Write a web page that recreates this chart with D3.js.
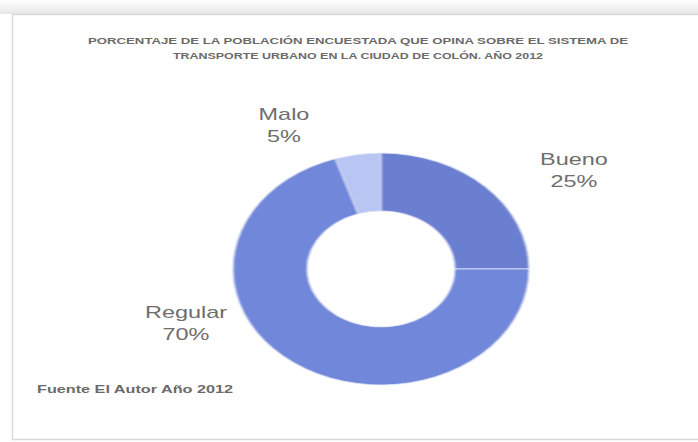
<!DOCTYPE html>
<html><head><meta charset="utf-8">
<script src="https://cdn.jsdelivr.net/npm/d3@7"></script>
<style>body{margin:0;background:#fff}</style></head>
<body>
<script>
const categories = ["Bueno", "Regular", "Malo"];
const values = [25, 70, 5];
const percentLabels = ["25%", "70%", "5%"];
const sliceColors = ["#6a7fd0", "#7087da", "#b9c5f2"];
const titleLines = [
  "PORCENTAJE DE LA POBLACIÓN ENCUESTADA QUE OPINA SOBRE EL SISTEMA DE",
  "TRANSPORTE URBANO EN LA CIUDAD DE COLÓN.  AÑO 2012"
];
const sourceText = "Fuente  El Autor  Año 2012";

const W = 698, H = 442;
const svg = d3.select("body").append("svg").attr("width", W).attr("height", H);

const defs = svg.append("defs");
defs.append("filter").attr("id", "soft").append("feGaussianBlur").attr("stdDeviation", 0.7);
const grad = defs.append("linearGradient").attr("id", "topg").attr("x1", 0).attr("x2", 0).attr("y1", 0).attr("y2", 1);
grad.append("stop").attr("offset", "0%").attr("stop-color", "#ffffff");
grad.append("stop").attr("offset", "100%").attr("stop-color", "#e6e6e6");

// frame
svg.append("rect").attr("x", 0).attr("y", 0).attr("width", W).attr("height", 14).attr("fill", "url(#topg)");
svg.append("rect").attr("x", 12.5).attr("y", 14.5).attr("width", W - 10).attr("height", H - 17)
  .attr("fill", "none").attr("stroke", "#d9d9d9").attr("stroke-width", 1.5);

// title
const titleY = [44, 59];
const titleW = [540, 370];
titleLines.forEach((t, i) => {
  svg.append("text").attr("x", 358).attr("y", titleY[i]).attr("text-anchor", "middle")
    .attr("font-family", "'Liberation Sans Narrow', 'Liberation Sans', Arial, sans-serif")
    .attr("font-size", 9).attr("font-weight", "bold").attr("fill", "#6a6a6a")
    .attr("textLength", titleW[i]).attr("lengthAdjust", "spacingAndGlyphs")
    .text(t);
});

// donut
const cx = 381, cy = 269, R = 116, sx = 148 / 116;
const pie = d3.pie().sort(null).value(d => d)(values);
const arc = d3.arc().innerRadius(R * 0.5).outerRadius(R);
const g = svg.append("g").attr("transform", `translate(${cx},${cy}) scale(${sx},1)`).attr("filter", "url(#soft)");
g.selectAll("path").data(pie).join("path")
  .attr("d", arc)
  .attr("fill", (d, i) => sliceColors[i])
  .attr("stroke", "#e4e8f8").attr("stroke-width", 0.8)
  .attr("vector-effect", "non-scaling-stroke");

// labels
const labelPos = [[574, 165], [186, 318], [284, 120]];
categories.forEach((c, i) => {
  const lg = svg.append("g").attr("transform", `translate(${labelPos[i][0]},${labelPos[i][1]}) scale(1.38,1)`);
  [c, percentLabels[i]].forEach((t, k) => {
    lg.append("text").attr("x", 0).attr("y", k * 22).attr("text-anchor", "middle")
      .attr("font-family", "'Liberation Sans', Arial, sans-serif").attr("font-size", 17)
      .attr("fill", "#6e6e6e").text(t);
  });
});

// source
svg.append("text").attr("x", 37).attr("y", 393)
  .attr("font-family", "'Liberation Sans Narrow', 'Liberation Sans', Arial, sans-serif")
  .attr("font-size", 10).attr("font-weight", "bold").attr("fill", "#6a6a6a")
  .attr("textLength", 196).attr("lengthAdjust", "spacingAndGlyphs")
  .text(sourceText);
</script>
</body></html>
